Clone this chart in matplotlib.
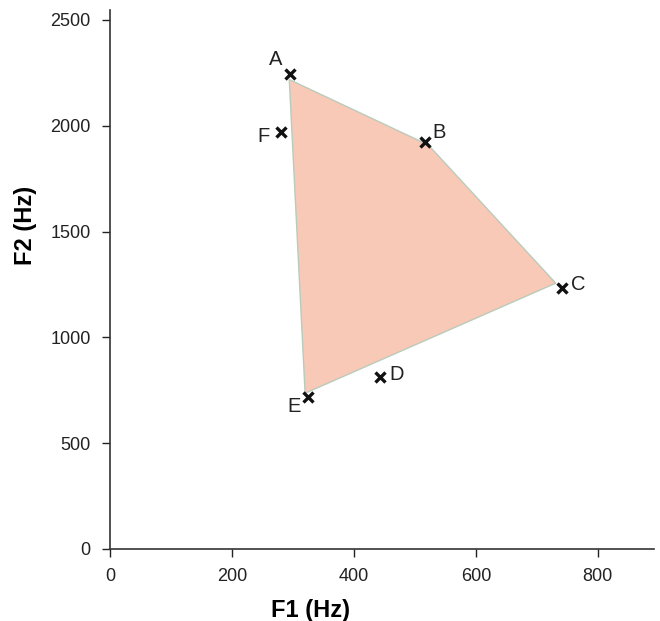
import matplotlib.pyplot as plt

plt.rcParams['font.family'] = ['Liberation Sans', 'DejaVu Sans']

# vowel points (F1, F2) in Hz
labels = ['A', 'B', 'C', 'D', 'E', 'F']
f1 = [295, 517, 742, 443, 325, 281]
f2 = [2245, 1925, 1235, 811, 717, 1969]

# shaded vowel space corners
hull_f1 = [294, 522, 731, 320]
hull_f2 = [2218, 1909, 1256, 736]

# label offsets in points
offsets = {'A': (-10.5, 10.5), 'B': (10.3, 6.6), 'C': (11.7, 2.3),
           'D': (11.9, 2.0), 'E': (-10.3, -6.6), 'F': (-12.7, -3.4)}

fig = plt.figure(figsize=(6.6, 6.21), dpi=100)
ax = fig.add_axes([0.1667, 0.116, 0.824, 0.868])

ax.fill(hull_f1, hull_f2, facecolor='#f9c9b7', edgecolor='#b9cbbb',
        linewidth=1.0, zorder=1)
ax.plot(f1, f2, linestyle='none', marker='x', color='#111111',
        markersize=6.5, markeredgewidth=2.4, zorder=3)

for lab, x, y in zip(labels, f1, f2):
    ax.annotate(lab, (x, y), xytext=offsets[lab], textcoords='offset points',
                ha='center', va='center', fontsize=14.5, color='#222222')

ax.set_xlim(0, 892)
ax.set_ylim(0, 2547)
ax.set_xticks([0, 200, 400, 600, 800])
ax.set_yticks([0, 500, 1000, 1500, 2000, 2500])
ax.tick_params(labelsize=13, length=6, width=1, colors='#222222', pad=8)

for side in ['top', 'right']:
    ax.spines[side].set_visible(False)
for side in ['left', 'bottom']:
    ax.spines[side].set_color('#333333')
    ax.spines[side].set_linewidth(1.2)

ax.set_xlabel('F1 (Hz)', fontsize=17, fontweight='bold')
ax.set_ylabel('F2 (Hz)', fontsize=17, fontweight='bold')
ax.xaxis.set_label_coords(0.368, -0.093)
ax.yaxis.set_label_coords(-0.134, 0.601)

fig.savefig('out.png', dpi=100)
